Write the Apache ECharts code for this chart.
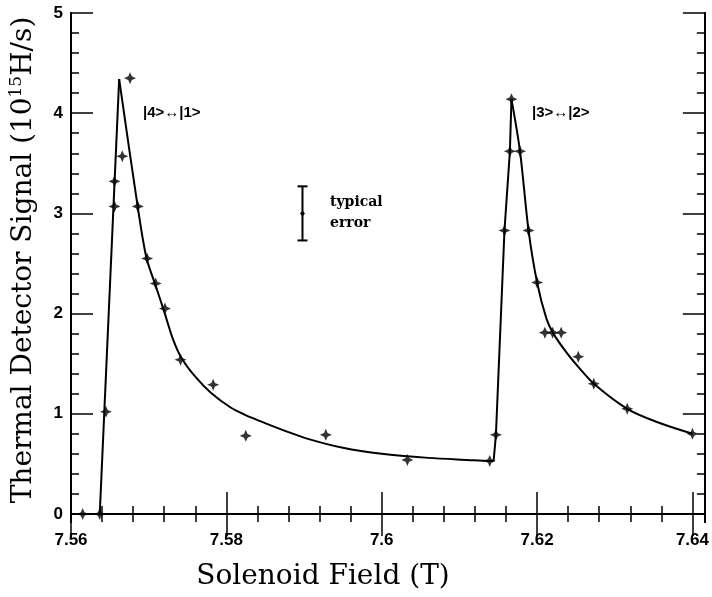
<!DOCTYPE html>
<html><head><meta charset="utf-8">
<script src="https://cdn.jsdelivr.net/npm/echarts@6/dist/echarts.min.js"></script>
<style>html,body{margin:0;padding:0;background:#fff}#c{width:712px;height:597px}</style>
</head><body><div id="c"></div>
<script>
// Measured data (field in T, signal in 10^15 H/s)
const measuredField = [7.5615, 7.5637, 7.5645, 7.5656, 7.5656, 7.5666, 7.5676, 7.5686, 7.5698, 7.5709, 7.5721, 7.5741, 7.5783, 7.5825, 7.5928, 7.6033,
  7.6139, 7.6147, 7.6158, 7.6165, 7.6167, 7.6178, 7.6189, 7.6200, 7.6210, 7.6220, 7.6231, 7.6253, 7.6273, 7.6316, 7.6400];
const measuredSignal = [0, 0, 1.02, 3.07, 3.32, 3.57, 4.35, 3.07, 2.55, 2.30, 2.05, 1.54, 1.29, 0.78, 0.79, 0.54,
  0.53, 0.79, 2.83, 3.62, 4.14, 3.62, 2.83, 2.31, 1.81, 1.81, 1.81, 1.57, 1.30, 1.05, 0.80];
// Fitted curve
const fitField = [7.5600, 7.5637, 7.5662, 7.5686, 7.5697, 7.5708, 7.5720, 7.5731, 7.5742, 7.5760, 7.5780,
  7.5806, 7.5824, 7.5849, 7.5879, 7.5905, 7.5950, 7.6000, 7.6060,
  7.6110, 7.6139, 7.6144, 7.6147, 7.6158, 7.6165, 7.6167, 7.6178, 7.6189, 7.6200, 7.6212, 7.6221, 7.6238, 7.6255,
  7.6273, 7.6316, 7.6357, 7.6400];
const fitSignal = [0, 0, 4.34, 3.06, 2.56, 2.30, 2.02, 1.75, 1.56, 1.37, 1.21,
  1.06, 0.99, 0.91, 0.82, 0.75, 0.66, 0.60, 0.56,
  0.54, 0.53, 0.53, 0.79, 2.83, 3.62, 4.14, 3.62, 2.83, 2.31, 1.95, 1.80, 1.61, 1.45,
  1.30, 1.05, 0.91, 0.80];
// Typical error bar: [field, signal, half-width]
const errorBar = [[7.5898, 3.0, 0.27]];
const xMajorTicks = [7.56, 7.58, 7.6, 7.62, 7.64];
const xMinorTicks = [7.564, 7.568, 7.572, 7.576, 7.584, 7.588, 7.592, 7.596, 7.604, 7.608, 7.612, 7.616, 7.624, 7.628, 7.632, 7.636];
const yMajorTicks = [0, 1, 2, 3, 4, 5];
const yMinorTicks = [0.2, 0.4, 0.6, 0.8, 1.2, 1.4, 1.6, 1.8, 2.2, 2.4, 2.6, 2.8, 3.2, 3.4, 3.6, 3.8, 4.2, 4.4, 4.6, 4.8];

const X_MIN = 7.56, X_MAX = 7.6416, Y_MIN = -0.08, Y_MAX = 5;
const labelFont = { color: '#000', fontFamily: 'Liberation Sans', fontWeight: 'bold', fontSize: 17 };
const axisLine = { show: true, lineStyle: { color: '#000', width: 2 } };

function xAx(pos, ticks, len, labels) {
  return {
    type: 'value', position: pos, min: X_MIN, max: X_MAX,
    axisLine: axisLine,
    axisTick: { show: true, inside: true, length: len, customValues: ticks, lineStyle: { color: '#000', width: 1.5 } },
    axisLabel: labels ? Object.assign({ show: true, customValues: ticks, margin: 10,
      formatter: v => String(+(+v).toFixed(2)) }, labelFont) : { show: false },
    splitLine: { show: false }
  };
}
function yAx(pos, ticks, len, labels) {
  return {
    type: 'value', position: pos, min: Y_MIN, max: Y_MAX,
    axisLine: axisLine,
    axisTick: { show: true, inside: true, length: len, customValues: ticks, lineStyle: { color: '#000', width: 1.5 } },
    axisLabel: labels ? Object.assign({ show: true, customValues: ticks, margin: 8 }, labelFont) : { show: false },
    splitLine: { show: false }
  };
}

// Split the fitted curve at its peaks and bases so the decays can be smoothed while the peaks stay sharp
const fitPts = fitField.map((x, i) => [x, fitSignal[i]]);
const segments = [];
let cur = [fitPts[0]];
for (let i = 1; i < fitPts.length; i++) {
  cur.push(fitPts[i]);
  if (i < fitPts.length - 1) {
    const p = fitPts[i - 1][1], c = fitPts[i][1], n = fitPts[i + 1][1];
    const isPeak = c > p && c > n;
    const isBase = c <= p && n > c;
    if (isPeak || isBase) { segments.push(cur); cur = [fitPts[i]]; }
  }
}
segments.push(cur);
const fitSeries = segments.map(seg => ({
  type: 'line', xAxisIndex: 0, yAxisIndex: 0, data: seg,
  showSymbol: false, symbol: 'none',
  smooth: seg[seg.length - 1][1] < seg[0][1] ? 0.3 : false,
  lineStyle: { color: '#000', width: 2 }, z: 3
}));

const star = 'path://M0,-6 L1.8,-1.8 L6,0 L1.8,1.8 L0,6 L-1.8,1.8 L-6,0 L-1.8,-1.8 Z';

const chart = echarts.init(document.getElementById('c'));
chart.setOption({
  animation: false,
  backgroundColor: '#fff',
  grid: { left: 71, right: 3, top: 13, bottom: 75 },
  xAxis: [
    xAx('bottom', xMajorTicks, 22, true),
    xAx('bottom', xMinorTicks, 8, false),
    xAx('top', xMajorTicks, 22, false),
    xAx('top', xMinorTicks, 8, false)
  ],
  yAxis: [
    yAx('left', yMajorTicks, 22, true),
    yAx('left', yMinorTicks, 8, false),
    yAx('right', yMajorTicks, 22, false),
    yAx('right', yMinorTicks, 8, false)
  ],
  series: fitSeries.concat([
    {
      type: 'scatter', xAxisIndex: 0, yAxisIndex: 0,
      data: measuredField.map((x, i) => [x, measuredSignal[i]]),
      symbol: star, symbolSize: 12,
      itemStyle: { color: '#000' }, z: 4
    },
    {
      type: 'custom', xAxisIndex: 0, yAxisIndex: 0,
      data: errorBar,
      renderItem: (params, api) => {
        const x = api.value(0), y = api.value(1), e = api.value(2);
        const t = api.coord([x, y + e]), b = api.coord([x, y - e]), m = api.coord([x, y]);
        const w = 5, st = { stroke: '#000', lineWidth: 2 };
        return { type: 'group', children: [
          { type: 'line', shape: { x1: t[0], y1: t[1], x2: b[0], y2: b[1] }, style: st },
          { type: 'line', shape: { x1: t[0] - w, y1: t[1], x2: t[0] + w, y2: t[1] }, style: st },
          { type: 'line', shape: { x1: b[0] - w, y1: b[1], x2: b[0] + w, y2: b[1] }, style: st },
          { type: 'polygon', shape: { points: [[m[0], m[1] - 3], [m[0] + 2.5, m[1]], [m[0], m[1] + 3], [m[0] - 2.5, m[1]]] }, style: { fill: '#000' } }
        ] };
      }
    }
  ]),
  graphic: [
    { type: 'text', left: 143, top: 105, style: { text: '|4>↔|1>', font: 'bold 15px "Liberation Sans"', fill: '#000' } },
    { type: 'text', left: 532, top: 105, style: { text: '|3>↔|2>', font: 'bold 15px "Liberation Sans"', fill: '#000' } },
    { type: 'text', left: 330, top: 195, style: { text: 'typical', font: 'bold 14px "DejaVu Serif"', fill: '#000' } },
    { type: 'text', left: 330, top: 216, style: { text: 'error', font: 'bold 14px "DejaVu Serif"', fill: '#000' } },
    { type: 'text', x: 323, y: 577, style: { text: 'Solenoid Field (T)', font: '28px "DejaVu Serif"', fill: '#000', align: 'center', verticalAlign: 'middle' } },
    { type: 'text', x: 24, y: 260, rotation: Math.PI / 2,
      style: { text: '{a|Thermal Detector Signal (10}{b|15}{a|H/s)}', align: 'center', verticalAlign: 'middle',
        rich: { a: { font: '28px "DejaVu Serif"', fill: '#000', lineHeight: 32 }, b: { font: '17px "DejaVu Serif"', fill: '#000', verticalAlign: 'top', lineHeight: 32 } } } }
  ]
});
</script></body></html>
